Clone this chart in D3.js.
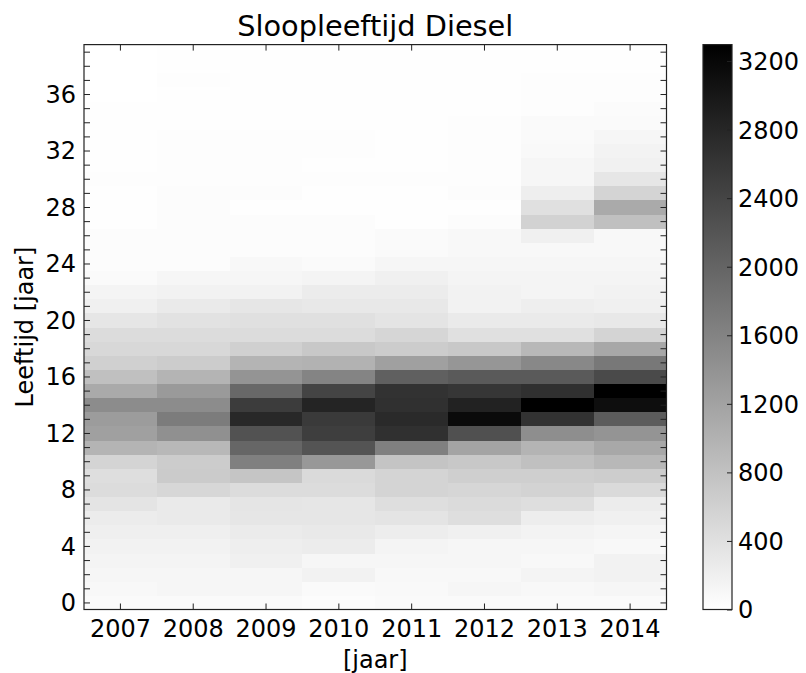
<!DOCTYPE html>
<html>
<head>
<meta charset="utf-8">
<script src="https://cdn.jsdelivr.net/npm/d3@7/dist/d3.min.js"></script>
<style>
  html, body { margin: 0; padding: 0; background: #fff; }
  svg { display: block; }
  text { font-family: "DejaVu Sans", sans-serif; fill: #000; }
</style>
</head>
<body>
<svg id="chart" width="806" height="673"></svg>
<script>
// Scrapped diesel cars per scrap year, by vehicle age (index = age 0..39)
const years = [2007, 2008, 2009, 2010, 2011, 2012, 2013, 2014];
const ages = d3.range(0, 40);

const count2007 = [65, 91, 116, 142, 168, 207, 246, 350, 453, 427, 556, 970, 1229, 1280, 1488, 1100, 815, 608, 505, 453,
                   324, 194, 142, 65, 39, 39, 39, 13, 13, 13, 20, 15, 10, 10, 10, 8, 5, 5, 5, 5];
const count2008 = [65, 116, 116, 142, 168, 207, 272, 272, 518, 673, 660, 919, 1436, 1695, 1488, 1307, 970, 660, 505, 453,
                   375, 272, 168, 116, 39, 39, 39, 39, 39, 39, 30, 20, 20, 20, 15, 15, 15, 20, 15, 10];
const count2009 = [65, 116, 116, 194, 220, 259, 324, 336, 453, 750, 1643, 1980, 2239, 2782, 2523, 1954, 1385, 970, 608, 453,
                   401, 324, 168, 116, 91, 39, 39, 39, 13, 39, 25, 25, 25, 20, 15, 15, 15, 15, 15, 10];
const count2010 = [39, 65, 168, 116, 246, 285, 324, 324, 453, 479, 1333, 2213, 2497, 2549, 2834, 2420, 1592, 996, 712, 453,
                   401, 298, 246, 142, 65, 39, 39, 39, 13, 13, 30, 10, 20, 20, 15, 15, 15, 8, 15, 15];
const count2011 = [65, 80, 91, 116, 142, 233, 350, 427, 556, 556, 763, 1643, 2679, 2756, 2679, 2653, 2057, 1229, 660, 530,
                   350, 298, 246, 194, 116, 65, 65, 13, 13, 13, 25, 15, 15, 15, 15, 15, 15, 8, 15, 10];
const count2012 = [65, 116, 91, 116, 116, 194, 427, 466, 530, 621, 712, 1178, 2265, 3170, 2860, 2601, 2135, 1359, 712, 401,
                   272, 168, 168, 142, 116, 91, 91, 39, 13, 39, 30, 20, 25, 25, 20, 15, 15, 15, 10, 10];
const count2013 = [65, 91, 142, 91, 116, 155, 233, 427, 570, 621, 815, 970, 1462, 2653, 3290, 2679, 2135, 1540, 919, 401,
                   272, 220, 142, 142, 116, 91, 194, 582, 401, 220, 116, 110, 80, 70, 60, 30, 25, 20, 15, 15];
const count2014 = [65, 116, 168, 168, 91, 129, 194, 246, 479, 647, 919, 1126, 1385, 2109, 3119, 3296, 2342, 1747, 1126, 556,
                   298, 194, 168, 142, 116, 91, 91, 815, 1100, 556, 324, 180, 150, 120, 60, 50, 30, 20, 15, 10];

const yTickLabels = [0, 4, 8, 12, 16, 20, 24, 28, 32, 36];
const colorbarTicks = [0, 400, 800, 1200, 1600, 2000, 2400, 2800, 3200];

const seriesByYear = [count2007, count2008, count2009, count2010, count2011, count2012, count2013, count2014];

const cells = [];
years.forEach((yr, i) => {
  seriesByYear[i].forEach((v, age) => cells.push({ year: yr, age: age, value: v }));
});
const vmax = d3.max(cells, d => d.value);

const svg = d3.select("#chart");
const plot = { left: 84, right: 666.5, top: 44.6, bottom: 609.5 };
const font = 24;

const x = d3.scaleBand().domain(years).range([plot.left, plot.right]).padding(0);
const y = d3.scaleLinear().domain([-0.5, 39.5]).range([plot.bottom, plot.top]);
const color = d3.scaleLinear().domain([0, vmax]).range(["#ffffff", "#000000"]);

// heatmap cells
svg.append("g").selectAll("rect").data(cells).join("rect")
  .attr("x", d => x(d.year))
  .attr("y", d => y(d.age + 0.5))
  .attr("width", x.bandwidth() + 0.5)
  .attr("height", y(0) - y(1) + 0.5)
  .attr("fill", d => color(d.value))
  .attr("shape-rendering", "crispEdges");

// axes with inward ticks
const tickLen = 6;
function styleAxis(g) {
  g.select(".domain").remove();
  g.selectAll(".tick line").attr("stroke", "#222").attr("stroke-width", 1);
  g.selectAll(".tick text").attr("font-size", font).attr("font-family", "DejaVu Sans, sans-serif");
}

const axisLeftG = svg.append("g").attr("transform", `translate(${plot.left},0)`)
  .call(d3.axisLeft(y).tickValues(ages).tickSize(-tickLen).tickPadding(8)
    .tickFormat(d => yTickLabels.includes(d) ? d : ""));
styleAxis(axisLeftG);
axisLeftG.selectAll(".tick text").attr("dy", "0.35em");

const axisRightG = svg.append("g").attr("transform", `translate(${plot.right},0)`)
  .call(d3.axisRight(y).tickValues(ages).tickSize(-tickLen).tickFormat(""));
styleAxis(axisRightG);

const axisBottomG = svg.append("g").attr("transform", `translate(0,${plot.bottom})`)
  .call(d3.axisBottom(x).tickSize(-tickLen).tickPadding(10));
styleAxis(axisBottomG);

const axisTopG = svg.append("g").attr("transform", `translate(0,${plot.top})`)
  .call(d3.axisTop(x).tickSize(-tickLen).tickFormat(""));
styleAxis(axisTopG);

// frame
svg.append("rect")
  .attr("x", plot.left).attr("y", plot.top)
  .attr("width", plot.right - plot.left).attr("height", plot.bottom - plot.top)
  .attr("fill", "none").attr("stroke", "#222").attr("stroke-width", 1.2);

// title and axis labels
svg.append("text").attr("x", (plot.left + plot.right) / 2).attr("y", 36)
  .attr("text-anchor", "middle").attr("font-size", font * 1.2).text("Sloopleeftijd Diesel");
svg.append("text").attr("x", (plot.left + plot.right) / 2).attr("y", 668)
  .attr("text-anchor", "middle").attr("font-size", font).text("[jaar]");
svg.append("text")
  .attr("transform", `translate(33,${(plot.top + plot.bottom) / 2}) rotate(-90)`)
  .attr("text-anchor", "middle").attr("font-size", font).text("Leeftijd [jaar]");

// colorbar
const cb = { left: 703, right: 732 };
const cbScale = d3.scaleLinear().domain([0, vmax]).range([plot.bottom, plot.top]);
const defs = svg.append("defs");
const grad = defs.append("linearGradient").attr("id", "cbgrad")
  .attr("x1", 0).attr("y1", 1).attr("x2", 0).attr("y2", 0);
grad.append("stop").attr("offset", 0).attr("stop-color", color(0));
grad.append("stop").attr("offset", 1).attr("stop-color", color(vmax));
svg.append("rect")
  .attr("x", cb.left).attr("y", plot.top)
  .attr("width", cb.right - cb.left).attr("height", plot.bottom - plot.top)
  .attr("fill", "url(#cbgrad)").attr("stroke", "#222").attr("stroke-width", 1.2);

const cbAxis = svg.append("g").attr("transform", `translate(${cb.right},0)`)
  .call(d3.axisRight(cbScale).tickValues(colorbarTicks).tickSize(-5).tickPadding(6)
    .tickFormat(d3.format("d")));
styleAxis(cbAxis);
cbAxis.selectAll(".tick text").attr("dy", "0.35em");
</script>
</body>
</html>
